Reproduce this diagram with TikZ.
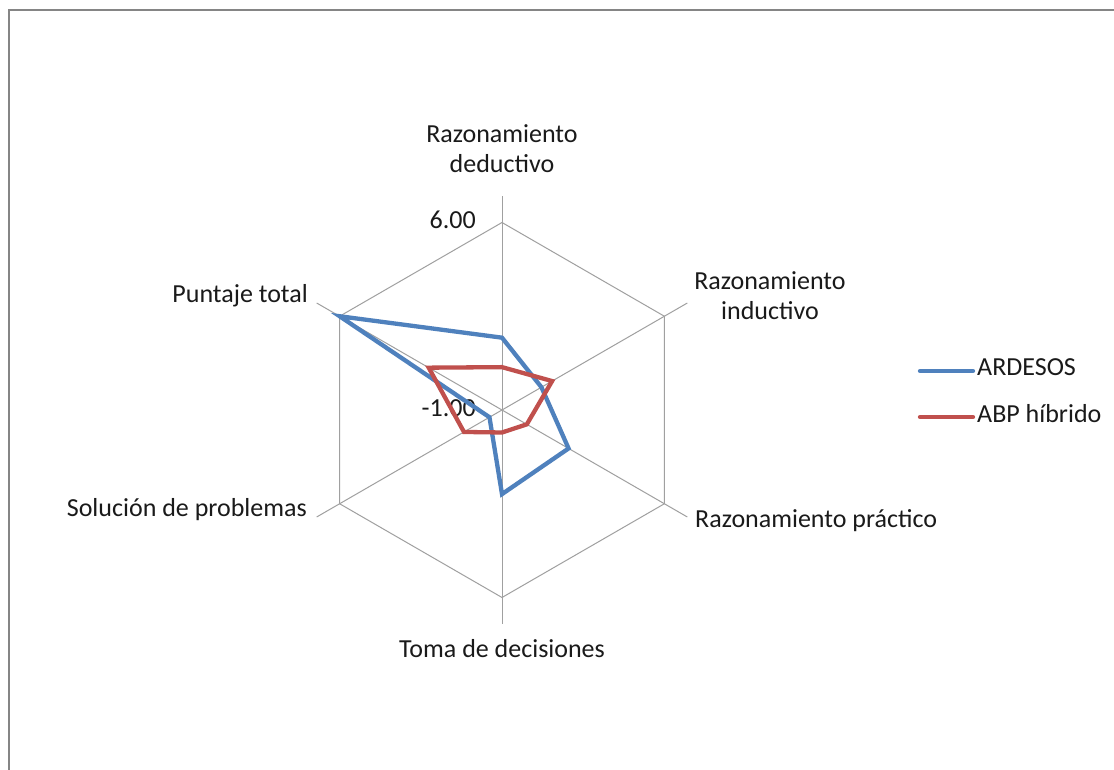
\documentclass[tikz,border=0pt]{standalone}
\usepackage{fontspec}
\setmainfont{Carlito}
\definecolor{serA}{HTML}{4F81BD}
\definecolor{serB}{HTML}{C0504D}
\definecolor{gridc}{HTML}{A0A0A0}
\definecolor{framec}{HTML}{858585}
\definecolor{txt}{HTML}{1A1A1A}
\begin{document}
\begin{tikzpicture}[x=1pt,y=1pt,
  lbl/.style={inner sep=0pt,font=\fontsize{26}{30}\selectfont,text=txt},
  gridline/.style={draw=gridc,line width=1pt},
  serieA/.style={draw=serA,line width=4.3pt},
  serieB/.style={draw=serB,line width=4.3pt},
  legline/.style={line width=4.3pt,line cap=round}]
\useasboundingbox (0,0) rectangle (1114,769);
\fill[white] (0,0) rectangle (1114,769);
\draw[framec,line width=2pt] (9,-20) rectangle (1140,759);
\begin{scope}[shift={(502,359)}]
  % grid
  \foreach \a/\n in {90/d,30/i,-30/p,-90/t,-150/s,150/pt}{
    \coordinate (v\n) at (\a:187.5);
    \coordinate (e\n) at (\a:214);
  }
  \coordinate (c) at (0,0);
  \draw[gridline] (vd) -- (vi) -- (vp) -- (vt) -- (vs) -- (vpt) -- cycle;
  \foreach \n in {d,i,p,t,s,pt} \draw[gridline] (c) -- (e\n);
  % data
  \def\R{26.7857}
  \coordinate (a1) at (90:{(1.70+1)*\R});
  \coordinate (a2) at (30:{(0.70+1)*\R});
  \coordinate (a3) at (-30:{(1.87+1)*\R});
  \coordinate (a4) at (-90:{(2.14+1)*\R});
  \coordinate (a5) at (-150:{(-0.46+1)*\R});
  \coordinate (a6) at (150:{(6.00+1)*\R});
  \coordinate (b1) at (90:{(0.60+1)*\R});
  \coordinate (b2) at (30:{(1.16+1)*\R});
  \coordinate (b3) at (-30:{(0.07+1)*\R});
  \coordinate (b4) at (-90:{(-0.16+1)*\R});
  \coordinate (b5) at (-150:{(0.64+1)*\R});
  \coordinate (b6) at (150:{(2.16+1)*\R});
\end{scope}
% axis values
\node[lbl,anchor=base east] (six) at (476,540) {6.00};
\node[lbl,anchor=base east] (mone) at (476,352) {-1.00};
% category labels
\node[lbl,anchor=base,align=center] (ld) at (502,596) {Razonamiento\\deductivo};
\node[lbl,anchor=base,align=center] (li) at (770,449) {Razonamiento\\inductivo};
\node[lbl,anchor=base west] (lp) at (695,241) {Razonamiento práctico};
\node[lbl,anchor=base] (lt) at (502,112) {Toma de decisiones};
\node[lbl,anchor=base east] (ls) at (307,252) {Solución de problemas};
\node[lbl,anchor=base east] (lpt) at (308,466) {Puntaje total};
% series
\draw[serieA] (a1) -- (a2) -- (a3) -- (a4) -- (a5) -- (a6) -- cycle;
\draw[serieB] (b1) -- (b2) -- (b3) -- (b4) -- (b5) -- (b6) -- cycle;
% legend
\coordinate (la1) at (920,398);
\coordinate (la2) at (973,398);
\coordinate (lb1) at (920,352);
\coordinate (lb2) at (973,352);
\draw[legline,serA] (la1) -- (la2);
\draw[legline,serB] (lb1) -- (lb2);
\node[lbl,anchor=base west] (lega) at (977,393) {ARDESOS};
\node[lbl,anchor=base west] (legb) at (977,346) {ABP híbrido};
\end{tikzpicture}
\end{document}
